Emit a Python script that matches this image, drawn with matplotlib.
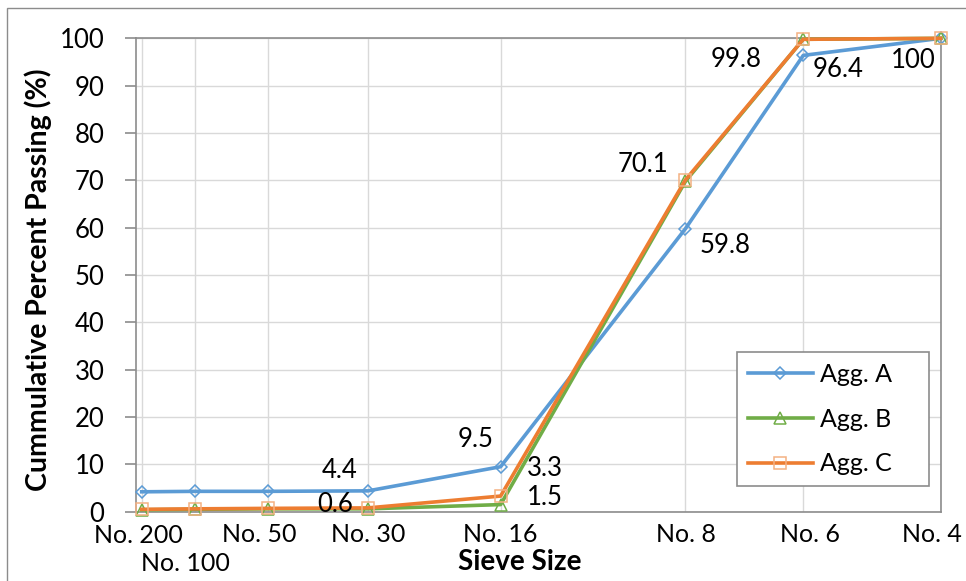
import matplotlib
matplotlib.use("Agg")
import numpy as np
import matplotlib.pyplot as plt
import matplotlib.transforms as mtransforms
from matplotlib.patches import Rectangle

# sieve data (0.45 power gradation chart)
sieve_labels = ["No. 200", "No. 100", "No. 50", "No. 30", "No. 16", "No. 8", "No. 6", "No. 4"]
sieve_mm = [0.075, 0.15, 0.3, 0.6, 1.18, 2.36, 3.35, 4.75]
agg_a = [4.2, 4.3, 4.3, 4.4, 9.5, 59.8, 96.4, 100]
agg_b = [0.4, 0.5, 0.6, 0.6, 1.5, 69.8, 99.8, 100]
agg_c = [0.5, 0.6, 0.7, 0.8, 3.3, 70.1, 99.8, 100]

plt.rcParams['font.family'] = ['Lato', 'DejaVu Sans']

fig = plt.figure(figsize=(9.66, 5.81), dpi=100)
ax = fig.add_axes([0.1413, 0.1193, 0.8325, 0.8147])

ax.set_xscale('function', functions=(lambda x: np.power(np.abs(x), 0.45),
                                     lambda x: np.power(np.abs(x), 1 / 0.45)))

series = [
    ("Agg. A", agg_a, "#5B9BD5", "D", "#5B9BD5", 6.5),
    ("Agg. B", agg_b, "#70AD47", "^", "#70AD47", 9),
    ("Agg. C", agg_c, "#ED7D31", "s", "#F4B183", 8.5),
]
for name, vals, col, mk, mcol, ms in series:
    ax.plot(sieve_mm, vals, color=col, lw=2.6, marker=mk, ms=ms,
            mfc='none', mec=mcol, mew=1.1, label=name, clip_on=False, zorder=3)

ax.set_xlim(0.0692, 4.75)
ax.set_ylim(0, 100)
ax.set_yticks(np.arange(0, 101, 10))
ax.set_xticks(sieve_mm)
ax.set_xticklabels(sieve_labels)
ax.grid(True, color="#d9d9d9", lw=1)
ax.set_axisbelow(True)
for s in ax.spines.values():
    s.set_color("#8c8c8c")
    s.set_linewidth(1.2)
ax.tick_params(axis='y', direction='out', length=8, width=1.2, color="#8c8c8c",
               pad=15, labelsize=18.5)
ax.tick_params(axis='x', length=0, pad=8, labelsize=18)

# nudge some x labels like the original (No. 100 drops to a second row)
shifts = {0: (-3, -1), 1: (-10, -29), 2: (-9, 0), 6: (7, 0), 7: (-9, 0)}
for i, lab in enumerate(ax.get_xticklabels()):
    if i in shifts:
        dx, dy = shifts[i]
        lab.set_transform(lab.get_transform() +
                          mtransforms.ScaledTranslation(dx / 100, dy / 100, fig.dpi_scale_trans))

ax.set_xlabel("Sieve Size", fontsize=20, fontweight='bold', va='center')
ax.xaxis.set_label_coords(0.477, -0.106)
ax.set_ylabel("Cummulative Percent Passing (%)", fontsize=20.5, fontweight='bold', va='center')
ax.yaxis.set_label_coords(-0.1225, 0.489)

# data labels: (series, index, dx px, dy px)
notes = [(agg_a, 3, -28, 20), (agg_b, 3, -33, 4), (agg_a, 4, -25, 27),
         (agg_c, 4, 44, 28), (agg_b, 4, 44, 7), (agg_c, 5, -42, 15),
         (agg_a, 5, 40, -17), (agg_c, 6, -67, -20), (agg_a, 6, 35, -14),
         (agg_c, 7, -27, -22)]
for vals, i, dx, dy in notes:
    ax.annotate(f"{vals[i]:g}", (sieve_mm[i], vals[i]), xytext=(dx, dy),
                textcoords='offset pixels', ha='center', va='center',
                fontsize=18.5, zorder=4)

leg = ax.legend(loc='upper left', bbox_to_anchor=(0.747, 0.0, 0.2385, 0.337),
                mode='expand', borderaxespad=0, fancybox=False, edgecolor="#8c8c8c",
                framealpha=1, fontsize=18, handlelength=2.6, handletextpad=0.3,
                labelspacing=0.87, borderpad=0.43)
leg.get_frame().set_linewidth(1.2)

fig.patches.append(Rectangle((7 / 966, -0.05), 1.1, 1 - 8 / 581 + 0.05,
                             transform=fig.transFigure, fill=False,
                             edgecolor="#8c8c8c", lw=1))

fig.savefig("out.png", dpi=100)
